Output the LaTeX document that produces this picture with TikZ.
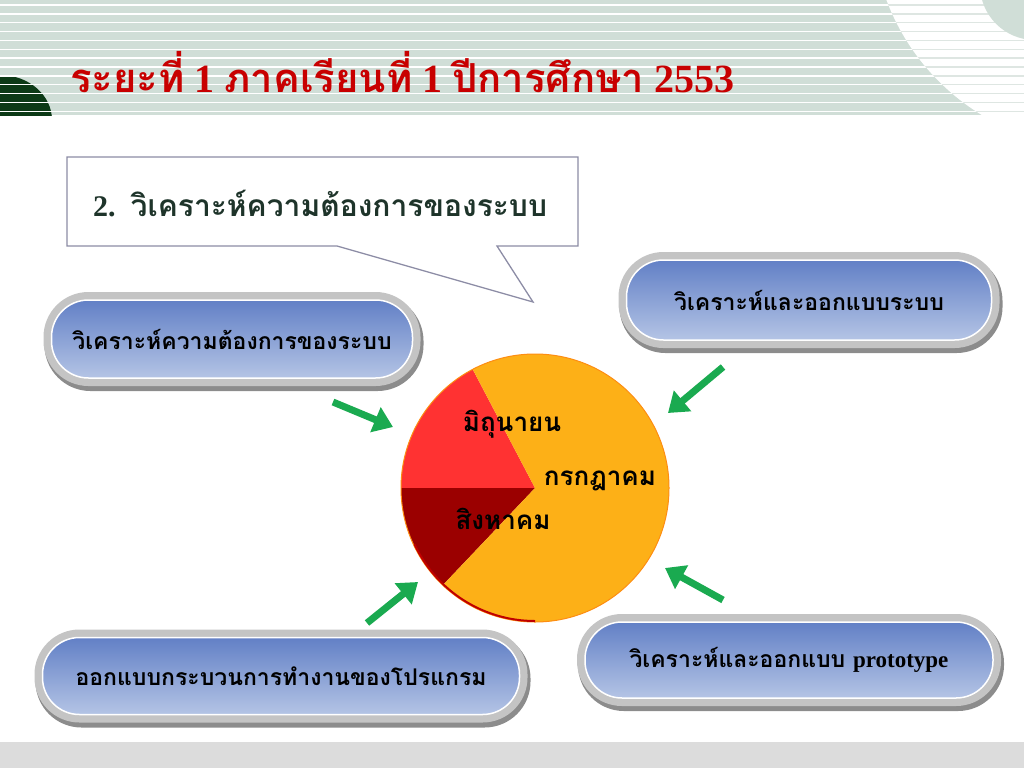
\documentclass[tikz,border=0pt]{standalone}
\usepackage{fontspec}
\setmainfont{Liberation Serif}
\newfontfamily\thaifont[Script=Thai]{Loma}
\usepackage{tikz}
\usetikzlibrary{positioning, arrows.meta, calc}
\definecolor{cHdr}{RGB}{208,222,215}
\definecolor{cHdrL}{RGB}{222,230,226}
\definecolor{cDkG}{RGB}{12,58,22}
\definecolor{cTtl}{RGB}{200,0,0}
\definecolor{cCall}{RGB}{140,140,165}
\definecolor{cCallT}{RGB}{30,52,42}
\definecolor{cPillT}{RGB}{98,128,198}
\definecolor{cPillB}{RGB}{180,196,229}
\definecolor{cRing}{RGB}{196,196,196}
\definecolor{cRingD}{RGB}{140,140,140}
\definecolor{cPieO}{RGB}{253,176,23}
\definecolor{cPieR}{RGB}{255,50,50}
\definecolor{cPieD}{RGB}{155,0,0}
\definecolor{cArr}{RGB}{26,170,80}
\definecolor{cBar}{RGB}{220,220,220}

\begin{document}
\begin{tikzpicture}[x=1pt, y=-1pt,
    pill/.style={draw=white, line width=1.5pt, rounded corners=37pt,
        top color=cPillT, bottom color=cPillB, inner sep=0pt, text=black,
        font=\thaifont\bfseries\fontsize{23}{27}\selectfont,
        preaction={draw=cRingD, line width=18pt, transform canvas={xshift=2pt, yshift=-4pt}},
        preaction={draw=cRing, line width=16pt}},
    lbl/.style={font=\thaifont\bfseries\fontsize{26}{30}\selectfont, inner sep=0pt},
    garrow/.style={cArr, line width=7pt, -{Triangle[length=19pt, width=26pt]}}]
    \useasboundingbox (0,0) rectangle (1024,768);

    % header band
    \fill[cHdr] (0,0) rectangle (1024,115);
    \begin{scope}
        \clip (0,0) rectangle (1024,115);
        \fill[white] (1100,-80) circle[radius=228pt];
        \fill[cDkG] (0,120) ellipse[x radius=52pt, y radius=45pt];
        \foreach \i in {0,...,12}
            \draw[white, line width=1.4pt] (0,{5+8.85*\i}) -- (1024,{5+8.85*\i});
        \clip (1100,-80) circle[radius=228pt];
        \foreach \i in {0,...,12}
            \draw[cHdrL, line width=1.4pt] (0,{5+8.85*\i}) -- (1024,{5+8.85*\i});
    \end{scope}
    \fill[cHdr] (1035,-15) circle[radius=55pt];
    \fill[cBar] (0,742) rectangle (1024,768);

    \node[anchor=west, text=cTtl, inner sep=0pt, font=\bfseries\fontsize{40}{44}\selectfont]
        (title) at (70,72) {{\thaifont ระยะที่} 1 {\thaifont ภาคเรียนที่} 1 {\thaifont ปีการศึกษา} 2553};

    % callout
    \coordinate (cTL) at (67,157);
    \coordinate (cTR) at (578,157);
    \coordinate (cBR) at (578,246);
    \coordinate (cBL) at (67,246);
    \coordinate (cTip) at (533,302);
    \draw[cCall, line width=1.3pt, fill=white]
        (cTL) -- (cTR) -- (cBR) -- (497,246) -- (cTip) -- (337,246) -- (cBL) -- cycle;
    \node[anchor=west, text=cCallT, inner sep=0pt, font=\bfseries\fontsize{30}{34}\selectfont]
        (callT) at (93,204) {2.\ \ {\thaifont วิเคราะห์ความต้องการของระบบ}};

    % pills
    \node[pill, minimum width=361pt, minimum height=78pt] (P1) at (232,339) {วิเคราะห์ความต้องการของระบบ};
    \node[pill, minimum width=365pt, minimum height=80pt] (P2) at (809,300) {วิเคราะห์และออกแบบระบบ};
    \node[pill, minimum width=477pt, minimum height=77pt] (P3) at (281,676) {ออกแบบกระบวนการทำงานของโปรแกรม};
    \node[pill, minimum width=408pt, minimum height=76pt] (P4) at (789,660) {วิเคราะห์และออกแบบ {\rmfamily prototype}};

    % pie
    \coordinate (pc) at (535,488);
    \fill[cPieR] (pc) -- ++(117.7:134pt) arc[start angle=117.7, end angle=180, radius=134pt] -- cycle;
    \fill[cPieD] (pc) -- ++(180:134pt) arc[start angle=180, end angle=226.5, radius=134pt] -- cycle;
    \fill[cPieO] (pc) -- ++(226.5:134pt) arc[start angle=226.5, end angle=477.7, radius=134pt] -- cycle;
    \draw[cPieO!80!red, line width=1pt] (pc) circle[radius=134pt];
    \draw[red!75!black, line width=2pt] (pc) ++(205:133pt) arc[start angle=205, end angle=270, radius=133pt];
    \node[lbl] (jun) at (512,424) {มิถุนายน};
    \node[lbl] (jul) at (600,481) {กรกฎาคม};
    \node[lbl] (aug) at (503,519) {สิงหาคม};

    % arrows
    \coordinate (A1s) at (333,402);
    \coordinate (A1e) at (393,427);
    \coordinate (A2s) at (723,367);
    \coordinate (A2e) at (668,413);
    \coordinate (A3s) at (723,600);
    \coordinate (A3e) at (665,568);
    \coordinate (A4s) at (367,623);
    \coordinate (A4e) at (418,582);
    \draw[garrow] (A1s) -- (A1e);
    \draw[garrow] (A2s) -- (A2e);
    \draw[garrow] (A3s) -- (A3e);
    \draw[garrow] (A4s) -- (A4e);
\end{tikzpicture}
\end{document}
